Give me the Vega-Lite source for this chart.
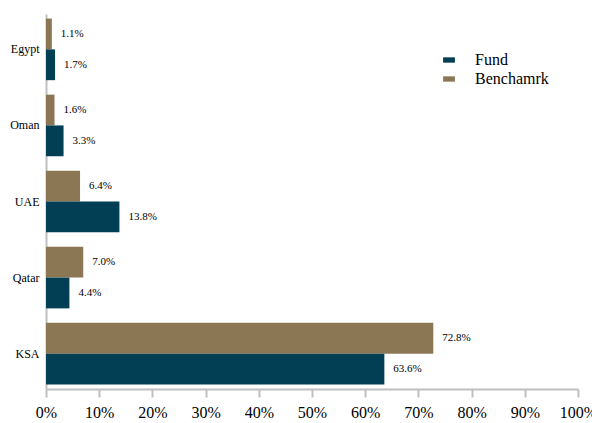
{
  "$schema": "https://vega.github.io/schema/vega-lite/v6.json",
  "width": 532,
  "height": 375,
  "autosize": {"type": "none"},
  "padding": {"left": 46, "top": 14, "right": 14, "bottom": 34},
  "background": "white",
  "config": {
    "font": "'Liberation Serif', 'Times New Roman', serif",
    "axis": {"labelFont": "'Liberation Serif', 'Times New Roman', serif"},
    "legend": {"labelFont": "'Liberation Serif', 'Times New Roman', serif"},
    "text": {"font": "'Liberation Serif', 'Times New Roman', serif"},
    "view": {"stroke": null}
  },
  "data": {
    "values": [
      {"country": "Egypt", "series": "Benchamrk", "value": 1.1, "label": "1.1%"},
      {"country": "Egypt", "series": "Fund", "value": 1.7, "label": "1.7%"},
      {"country": "Oman", "series": "Benchamrk", "value": 1.6, "label": "1.6%"},
      {"country": "Oman", "series": "Fund", "value": 3.3, "label": "3.3%"},
      {"country": "UAE", "series": "Benchamrk", "value": 6.4, "label": "6.4%"},
      {"country": "UAE", "series": "Fund", "value": 13.8, "label": "13.8%"},
      {"country": "Qatar", "series": "Benchamrk", "value": 7.0, "label": "7.0%"},
      {"country": "Qatar", "series": "Fund", "value": 4.4, "label": "4.4%"},
      {"country": "KSA", "series": "Benchamrk", "value": 72.8, "label": "72.8%"},
      {"country": "KSA", "series": "Fund", "value": 63.6, "label": "63.6%"}
    ]
  },
  "encoding": {
    "y": {
      "field": "country",
      "type": "nominal",
      "sort": ["Egypt", "Oman", "UAE", "Qatar", "KSA"],
      "scale": {"paddingInner": 0.19, "paddingOuter": 0.06},
      "axis": {
        "title": null,
        "ticks": false,
        "domainColor": "#bfbfbf",
        "domainWidth": 2,
        "labelFontSize": 12,
        "labelColor": "#000000",
        "labelPadding": 7
      }
    },
    "yOffset": {
      "field": "series",
      "type": "nominal",
      "sort": ["Benchamrk", "Fund"]
    },
    "x": {
      "field": "value",
      "type": "quantitative",
      "scale": {"domain": [0, 100], "nice": false},
      "axis": {
        "title": null,
        "grid": false,
        "values": [0, 10, 20, 30, 40, 50, 60, 70, 80, 90, 100],
        "labelExpr": "datum.value + '%'",
        "domainColor": "#bfbfbf",
        "domainWidth": 2,
        "tickColor": "#bfbfbf",
        "tickWidth": 2,
        "tickSize": 8,
        "labelFontSize": 16,
        "labelColor": "#000000",
        "labelPadding": 7,
        "labelFlush": false,
        "labelOverlap": false
      }
    }
  },
  "layer": [
    {
      "mark": {"type": "bar"},
      "encoding": {
        "color": {
          "field": "series",
          "type": "nominal",
          "scale": {"domain": ["Fund", "Benchamrk"], "range": ["#023f55", "#8c7755"]},
          "legend": {
            "title": null,
            "orient": "none",
            "legendX": 395,
            "legendY": 38,
            "labelFontSize": 16,
            "labelColor": "#000000",
            "symbolType": "M-1,-0.45H1V0.45H-1Z",
            "symbolSize": 140,
            "symbolStrokeWidth": 0,
            "labelOffset": 18,
            "rowPadding": 3
          }
        }
      }
    },
    {
      "mark": {"type": "text", "align": "left", "baseline": "middle", "dx": 9, "fontSize": 11, "color": "#000000"},
      "encoding": {
        "text": {"field": "label"}
      }
    }
  ]
}
